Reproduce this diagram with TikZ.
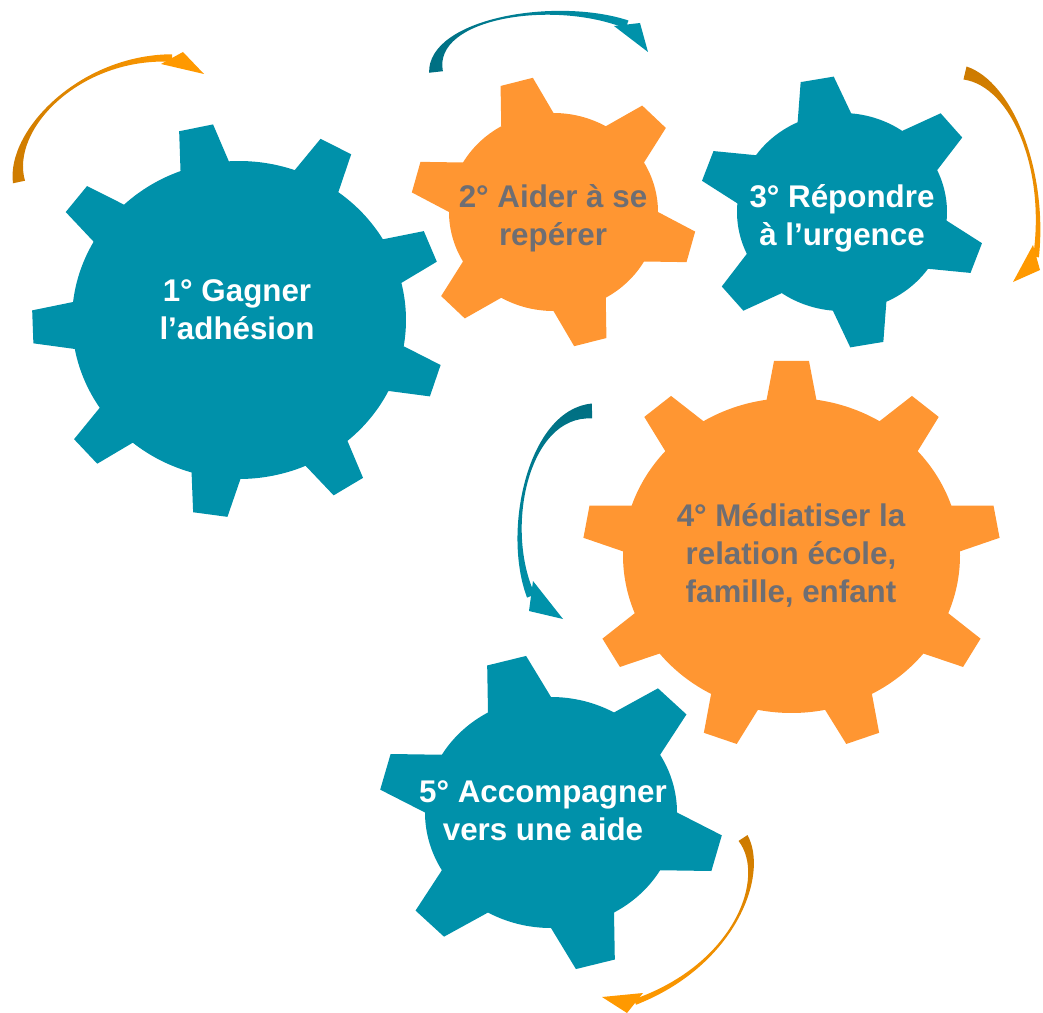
\documentclass[tikz,border=0pt]{standalone}
\usepackage{fontspec}
\setmainfont{Liberation Sans}
\usetikzlibrary{calc}

\definecolor{gearteal}{RGB}{0,145,170}
\definecolor{gearorange}{RGB}{255,150,50}
\definecolor{labelgray}{RGB}{110,110,115}
\definecolor{swooshor}{RGB}{255,153,0}
\definecolor{swooshordark}{RGB}{204,122,0}
\definecolor{swooshorlight}{RGB}{255,210,150}
\definecolor{swooshteal}{RGB}{0,146,170}
\definecolor{swooshtealdark}{RGB}{0,111,130}
\definecolor{swooshteallight}{RGB}{150,205,216}

\tikzset{
  geartext/.style={font=\bfseries\fontsize{23.5}{28.5}\selectfont, align=center, inner sep=0pt},
  orswoosh/.style={fill=swooshor},
  tealswoosh/.style={fill=swooshteal}
}

% style, centre, rx, ry, outer factor, teeth, first angle, base half angle, tip half angle
\newcommand{\gear}[9]{%
  \pgfmathsetmacro\gearRx{#5*#3}%
  \pgfmathsetmacro\gearRy{#5*#4}%
  \fill[#1, shift={(#2)}] ({#7+#8}:#3 and #4)
    \foreach \k in {1,...,#6}{
      arc[start angle={#7+#8+(\k-1)*360/#6}, end angle={#7-#8+\k*360/#6}, x radius=#3, y radius=#4]
      -- (xyz polar cs:angle={#7-#9+\k*360/#6}, x radius=\gearRx, y radius=\gearRy)
      -- (xyz polar cs:angle={#7+#9+\k*360/#6}, x radius=\gearRx, y radius=\gearRy)
      -- ({#7+#8+\k*360/#6}:#3 and #4)
    } -- cycle;}

% tail, control, control, head base, tail half width (pt), head half width (pt), shading
\newcommand{\swoosh}[7]{%
  \pgfmathsetmacro\swa{0.35*#5}%
  \pgfmathsetmacro\swb{0.35*#6}%
  \shade[#7] let \p1=#1, \p2=#2, \p3=#3, \p4=#4,
      \n1={atan2(\y2-\y1,\x2-\x1)+90}, \n2={atan2(\y4-\y3,\x4-\x3)+90} in
    ($(\p1)+(\n1:#5pt)$) .. controls ($(\p2)+(\n1:\swa pt)$) and ($(\p3)+(\n2:\swb pt)$) .. ($(\p4)+(\n2:#6pt)$)
    -- ($(\p4)-(\n2:#6pt)$) .. controls ($(\p3)-(\n2:\swb pt)$) and ($(\p2)-(\n1:\swa pt)$) .. ($(\p1)-(\n1:#5pt)$)
    -- cycle;}

\begin{document}
\begin{tikzpicture}[x=0.75pt, y=-0.75pt]
\useasboundingbox (0,0) rectangle (1043,1013);

% gears
\coordinate (g1) at (239,320);
\coordinate (g2) at (553.5,212);
\coordinate (g3) at (842,212);
\coordinate (g4) at (791.5,555.5);
\coordinate (g5) at (551,812.5);
\gear{gearteal}{g1}{167}{159}{1.24}{9}{-22}{8.5}{4.8}
\gear{gearorange}{g2}{104.5}{99}{1.37}{6}{-105}{15}{6.7}
\gear{gearteal}{g3}{105}{99}{1.37}{6}{-100}{15}{6.7}
\gear{gearorange}{g4}{168.5}{157.5}{1.24}{9}{-90}{8.5}{4.8}
\gear{gearteal}{g5}{126}{115.5}{1.37}{6}{-105}{15}{6.7}

\node[geartext, text=white] (gagner) at (237,310) {1° Gagner\\l’adhésion};
\node[geartext, text=labelgray] (reperer) at (553,218.5) {2° Aider à se\\repérer};
\node[geartext, text=white] (urgence) at (842,218.5) {3° Répondre\\à l’urgence};
\node[geartext, text=labelgray] (mediatiser) at (791,555.5) {4° Médiatiser la\\relation école,\\famille, enfant};
\node[geartext, text=white] (accompagner) at (543,811) {5° Accompagner\\vers une aide};

% arrows round the gears
\coordinate (aTail) at (19,182);
\coordinate (aHead) at (172,58);
\swoosh{(aTail)}{(8,130)}{(80,56)}{(aHead)}{4.6}{2.8}{left color=swooshordark, middle color=swooshorlight, right color=swooshor}
\fill[orswoosh] (183,52) -- (204,74) -- (161,64) -- cycle;

\coordinate (bTail) at (436,72);
\coordinate (bHead) at (627,24.5);
\swoosh{(bTail)}{(430,18)}{(555,-2)}{(bHead)}{5.2}{3.2}{left color=swooshtealdark, middle color=swooshteallight, right color=swooshteal}
\fill[tealswoosh] (640,23) -- (648,52) -- (614,26) -- cycle;

\coordinate (cTail) at (965,73);
\coordinate (cHead) at (1036,257);
\swoosh{(cTail)}{(1012,84)}{(1047,170)}{(cHead)}{5}{2.2}{top color=swooshordark, middle color=swooshorlight, bottom color=swooshor}
\fill[orswoosh] (1033,245) -- (1013,282) -- (1040,270) -- cycle;

\coordinate (dTail) at (592,411);
\coordinate (dHead) at (531,596);
\swoosh{(dTail)}{(528,412)}{(503,530)}{(dHead)}{5.6}{3.2}{top color=swooshtealdark, middle color=swooshteallight, bottom color=swooshteal}
\fill[tealswoosh] (533,581) -- (563,619) -- (529,611) -- cycle;

\coordinate (eTail) at (743,838);
\coordinate (eHead) at (635,1002);
\swoosh{(eTail)}{(768,876)}{(735,965)}{(eHead)}{4}{2.2}{top color=swooshordark, middle color=swooshorlight, bottom color=swooshor}
\fill[orswoosh] (643,993) -- (602,997) -- (627,1013) -- cycle;
\end{tikzpicture}
\end{document}
